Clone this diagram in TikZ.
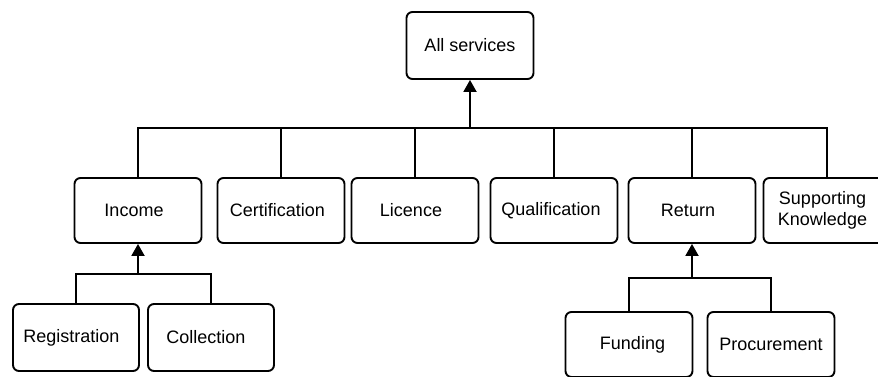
\documentclass[tikz,border=0pt]{standalone}
\usepackage{fontspec}
\setmainfont{Liberation Sans}
\usetikzlibrary{arrows.meta}
\newcommand{\shf}[1]{\hspace*{#1}}
\begin{document}
\begin{tikzpicture}[x=1pt,y=-1pt,
  box/.style={draw,line width=1.9pt,rounded corners=6pt,minimum width=127pt,minimum height=65pt,inner sep=0pt,font=\fontsize{18}{21}\selectfont,align=center},
  tall/.style={minimum height=67pt},
  conn/.style={line width=1.9pt},
  up/.style={line width=1.9pt,-{Triangle[width=13pt,length=12pt]}}]
\useasboundingbox (0,0) rectangle (878,376);
\node[box,tall] (all) at (470,45.5) {All services};
\node[box] (inc) at (138,210.5) {\shf{-8pt}Income};
\node[box] (cert) at (281,210.5) {\shf{-7pt}Certification};
\node[box] (lic) at (415,210.5) {\shf{-8pt}Licence};
\node[box] (qual) at (554,210.5) {\shf{-6pt}Qualification};
\node[box] (ret) at (692,210.5) {\shf{-8pt}Return};
\node[box] (sk) at (827,210.5) {\shf{-9pt}Supporting\\\shf{-9pt}Knowledge};
\node[box,tall,minimum width=126pt] (reg) at (76,337.5) {\shf{-9pt}Registration};
\node[box,tall,minimum width=126pt] (col) at (211,337.5) {\shf{-10pt}Collection};
\node[box] (fund) at (629,344.5) {\shf{7pt}Funding};
\node[box] (proc) at (771,344.5) {Procurement};
% top bus
\coordinate (b1) at (470,128);
\draw[conn] (inc.north) |- (b1) -| (sk.north);
\draw[conn] (cert.north) -- (cert.north |- b1);
\draw[conn] (lic.north) -- (lic.north |- b1);
\draw[conn] (qual.north) -- (qual.north |- b1);
\draw[conn] (ret.north) -- (ret.north |- b1);
\draw[up] (b1) -- (all.south);
% income bus
\coordinate (b2) at (138,274);
\draw[conn] (reg.north) |- (b2) -| (col.north);
\draw[up] (b2) -- (inc.south);
% return bus
\coordinate (b3) at (692,278);
\draw[conn] (fund.north) |- (b3) -| (proc.north);
\draw[up] (b3) -- (ret.south);
\end{tikzpicture}
\end{document}
